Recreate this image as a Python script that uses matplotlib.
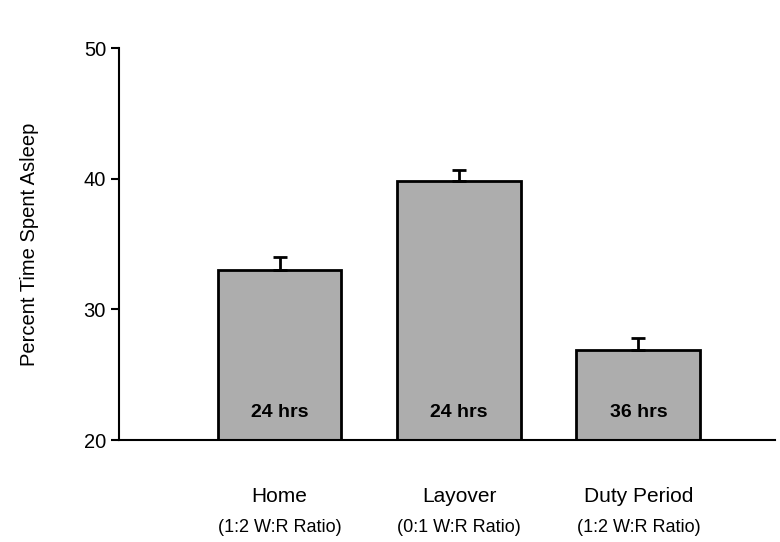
import matplotlib
matplotlib.use('Agg')
import matplotlib.pyplot as plt

# Data
categories = ['Home', 'Layover', 'Duty Period']
ratios = ['(1:2 W:R Ratio)', '(0:1 W:R Ratio)', '(1:2 W:R Ratio)']
durations = ['24 hrs', '24 hrs', '36 hrs']
percent_asleep = [33.0, 39.8, 26.9]
errors = [1.0, 0.9, 0.9]
yticks = [20, 30, 40, 50]

plt.rcParams['font.family'] = ['Liberation Sans', 'DejaVu Sans']

fig = plt.figure(figsize=(7.8, 5.42), dpi=100)
ax = fig.add_axes([0.152, 0.188, 0.842, 0.723])

x = list(range(len(categories)))
ax.bar(x, [v - 20 for v in percent_asleep], bottom=20, width=0.69,
       color='#adadad', edgecolor='black', linewidth=2, zorder=2)
ax.errorbar(x, percent_asleep, yerr=[[0] * len(errors), errors], fmt='none',
            ecolor='black', elinewidth=2, capsize=5, capthick=2, zorder=3)

# duration labels inside the bars
for xi, d in zip(x, durations):
    ax.text(xi, 22.1, d, ha='center', va='center', fontsize=14, fontweight='bold')

# category labels below the axis
for xi, c, r in zip(x, categories, ratios):
    ax.text(xi, -0.145, c, ha='center', va='center', fontsize=15,
            transform=ax.get_xaxis_transform())
    ax.text(xi, -0.224, r, ha='center', va='center', fontsize=13,
            transform=ax.get_xaxis_transform())

ax.set_ylim(20, 50)
ax.set_xlim(-0.897, 2.763)
ax.set_yticks(yticks)
ax.set_yticklabels([str(t) for t in yticks], fontsize=14.5)
ax.set_xticks([])
ax.tick_params(axis='y', direction='out', length=6, width=1.5, pad=3)
ax.set_ylabel('Percent Time Spent Asleep', fontsize=14.5, labelpad=32)

for side in ['top', 'right']:
    ax.spines[side].set_visible(False)
for side in ['left', 'bottom']:
    ax.spines[side].set_linewidth(1.5)

fig.savefig('out.png', dpi=100)
